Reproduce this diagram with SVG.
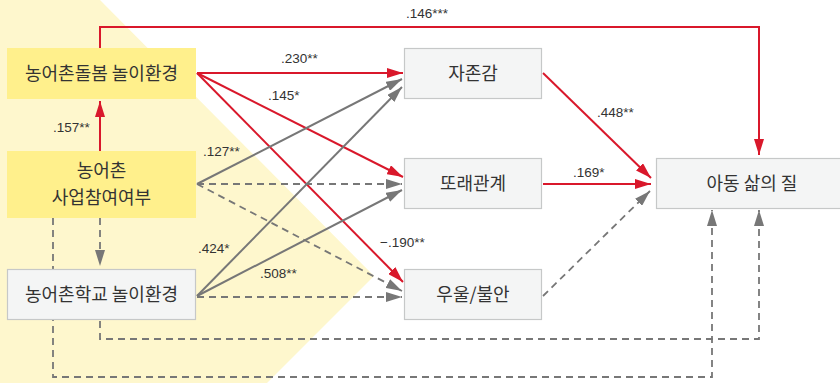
<svg xmlns="http://www.w3.org/2000/svg" width="840" height="383" viewBox="0 0 840 383">
<defs>
<style>
.node-y{fill:#fff08c;stroke:none}
.node-g{fill:#f4f5f5;stroke:#c6c8c8;stroke-width:1.2}
.lbl{font-family:"Noto Sans CJK KR","Noto Sans",sans-serif;font-size:18px;fill:#333;text-anchor:middle}
.num{font-family:"Liberation Sans",Arial,sans-serif;font-size:13.5px;fill:#333}
.red{stroke:#d9182b;stroke-width:2;fill:none;marker-end:url(#ar)}
.gray{stroke:#777;stroke-width:2;fill:none;marker-end:url(#ag)}
.dash{stroke:#777;stroke-width:1.8;fill:none;stroke-dasharray:7 5}
.dasha{stroke:#777;stroke-width:1.8;fill:none;stroke-dasharray:7 5;marker-end:url(#ag)}
</style>
<marker id="ar" viewBox="0 0 16 10" refX="16" refY="5" markerWidth="16" markerHeight="10" markerUnits="userSpaceOnUse" orient="auto">
<path d="M0,0 L16,5 L0,10 Z" fill="#d9182b"/>
</marker>
<marker id="ag" viewBox="0 0 16 10" refX="16" refY="5" markerWidth="16" markerHeight="10" markerUnits="userSpaceOnUse" orient="auto">
<path d="M0,0 L16,5 L0,10 Z" fill="#777"/>
</marker>
</defs>
<rect x="0" y="0" width="840" height="383" fill="#fff"/>
<polygon points="0,0 100,0 374,276 267,383 0,383" fill="#fef7cd"/>

<g id="connectors">
<path class="red" d="M100,48 V27 H759 V155"/>
<line class="red" x1="197" y1="73" x2="403" y2="73"/>
<line class="red" x1="197" y1="73" x2="403" y2="177"/>
<line class="red" x1="197" y1="73" x2="403" y2="282"/>
<line class="red" x1="100" y1="151" x2="100" y2="101"/>
<line class="gray" x1="197" y1="184" x2="402" y2="79"/>
<line class="gray" x1="197" y1="296" x2="402" y2="87"/>
<line class="gray" x1="197" y1="296" x2="402" y2="190"/>
<line class="dasha" x1="197" y1="184" x2="402" y2="184"/>
<line class="dasha" x1="197" y1="184" x2="402" y2="291"/>
<line class="dasha" x1="197" y1="297" x2="402" y2="297"/>
<line class="dasha" x1="100" y1="218" x2="100" y2="266"/>
<path class="dasha" d="M53,218 V377 H712 V210"/>
<path class="dasha" d="M100,321 V339 H759 V210"/>
<line class="red" x1="543" y1="73" x2="651" y2="178"/>
<line class="red" x1="543" y1="184" x2="651" y2="184"/>
<line class="dasha" x1="543" y1="296" x2="650" y2="191"/>
<text class="num" x="406" y="18">.146***</text>
<text class="num" x="281" y="63">.230**</text>
<text class="num" x="268" y="100">.145*</text>
<text class="num" x="53" y="132">.157**</text>
<text class="num" x="203" y="156">.127**</text>
<text class="num" x="198" y="253">.424*</text>
<text class="num" x="260" y="278">.508**</text>
<text class="num" x="380" y="247">−.190**</text>
<text class="num" x="597" y="117">.448**</text>
<text class="num" x="573" y="177">.169*</text>
</g>

<g id="n-dolbom">
<rect class="node-y" x="7" y="48" width="189" height="51"/>
<text class="lbl" x="101.5" y="80">농어촌돌봄 놀이환경</text>
</g>
<g id="n-saup">
<rect class="node-y" x="7" y="151" width="189" height="67"/>
<text class="lbl" x="101.5" y="177">농어촌</text>
<text class="lbl" x="101.5" y="204">사업참여여부</text>
</g>
<g id="n-school">
<rect class="node-g" x="7.5" y="269.5" width="188" height="50"/>
<text class="lbl" x="101.5" y="301">농어촌학교 놀이환경</text>
</g>
<g id="n-selfesteem">
<rect class="node-g" x="404.5" y="48.5" width="137" height="50"/>
<text class="lbl" x="473" y="80">자존감</text>
</g>
<g id="n-peer">
<rect class="node-g" x="404.5" y="158.5" width="137" height="50"/>
<text class="lbl" x="473" y="190">또래관계</text>
</g>
<g id="n-depress">
<rect class="node-g" x="404.5" y="269.5" width="137" height="50"/>
<text class="lbl" x="473" y="301">우울/불안</text>
</g>
<g id="n-qol">
<rect class="node-g" x="656.5" y="158.5" width="192" height="50"/>
<text class="lbl" x="752" y="190">아동 삶의 질</text>
</g>
</svg>
